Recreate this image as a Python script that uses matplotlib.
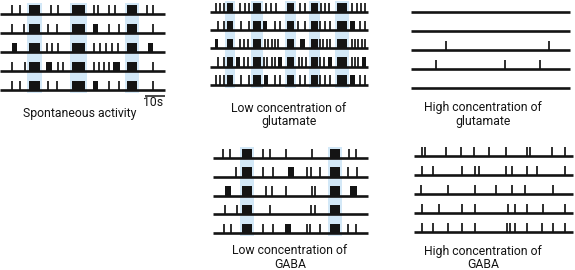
import matplotlib
matplotlib.use("Agg")
import matplotlib.pyplot as plt

# ── data: spike times / burst intervals (seconds) per row ────────────────────

spont_spikes = [
    [6, 10, 25.5, 29, 47, 49, 54.5, 57.5, 73.5, 76.5],
    [6, 12, 24, 28.5, 54.5, 59.5, 76.5],
    [23.5, 26, 29, 47, 50, 53, 56, 59],
    [6, 12.5, 29, 31.5, 47, 49.5, 52, 54.5, 76.5],
    [6, 10, 24, 28.5, 54.5, 59.5, 76.5],
]
spont_bursts = [
    [],
    [(46.5, 49)],
    [(6, 8.5), (74, 76.5)],
    [(23, 26), (56.5, 60)],
    [(46.5, 49)],
]
spont_sync = [(14.5, 20), (36, 42.5), (63.5, 68.5)]

lowglu_spikes = [
    [3, 5, 7, 15, 17.5, 19.5, 28, 30.5, 33, 45, 47.5, 55.5, 57.5, 59.5, 71, 73.5, 75.5, 77.5],
    [4, 7, 15.5, 19.5, 32.5, 35, 44, 47.5, 55, 57.5, 60, 75, 77.5],
    [15, 17, 19, 27.5, 29, 31, 32.5, 34, 55, 56.5, 58.5, 60, 71, 72.5, 74, 76, 77.5],
    [4, 7, 17, 19, 27, 28.5, 31, 32.5, 44.5, 46, 48, 55, 57, 71, 72.5, 74],
    [3, 5, 7, 15.5, 19.5, 32.5, 35, 45, 47.5, 55, 57.5, 60, 75, 77.5],
]
lowglu_bursts = [
    [],
    [(26.5, 28.5), (70, 72.5)],
    [(2.5, 4), (45, 47.5)],
    [(13, 15), (34, 36), (59, 61), (76, 78)],
    [(27, 29), (70, 72.5)],
]
lowglu_sync = [(8.5, 11.5), (21.5, 25.5), (38.5, 42), (50.5, 54), (63.5, 68.5)]

highglu_spikes = [[], [], [17.5, 69], [12.5, 47, 64.5], []]

lowgaba_spikes = [
    [5, 8.5, 25, 28.5, 36.5, 49.5, 68, 71.5],
    [11.5, 25, 30, 47, 49, 53.5, 67.5, 72],
    [26.5, 29.5, 36.5, 49.5, 51],
    [6, 12, 28.5, 49, 51],
    [5.5, 9, 25, 30, 47, 48.5, 53.5, 67.5, 71.5],
]
lowgaba_bursts = [
    [],
    [(37.5, 40.5)],
    [(6, 9), (68.5, 72)],
    [],
    [(36, 39)],
]
lowgaba_sync = [(14.5, 19.5), (58.5, 63.5)]

highgaba_spikes = [
    [4, 5.5, 16, 23.5, 30, 37.5, 46, 56.5, 58, 69, 75.5],
    [4, 9.5, 24, 30.5, 32.5, 46, 49, 56.5, 61.5, 75.5],
    [3.5, 17, 30.5, 41, 49, 55.5, 69.5],
    [4, 12.5, 24, 30.5, 47, 50.5, 56.5, 64.5, 75.5],
    [4, 9.5, 17, 24, 30.5, 46.5, 48, 50.5, 56.5, 64, 69.5, 75.5],
]

_INK = "#141414"
_SHADE = "#d3e8f7"
W, H = 575, 270
SPIKE_H = 9.5


def draw_panel(fig, x0, x1, ytop, spacing, spikes, bursts=None, sync=()):
    """One raster block; x in seconds (2 px per second), y in px below top row."""
    T = (x1 - x0) / 2
    bottom = ytop + 4 * spacing + 8
    ax = fig.add_axes([(x0 - 1) / W, 1 - bottom / H, (x1 - x0 + 2) / W,
                       (bottom - (ytop - 13)) / H])
    ax.set_xlim(-0.5, T + 0.5)
    ax.set_ylim(4 * spacing + 8, -13)
    ax.axis("off")

    # synchrony shading behind all rows
    for a, b in sync:
        ax.bar(a - 1, 4 * spacing + 14, width=(b - a) + 2, bottom=-11,
               align="edge", color=_SHADE, linewidth=0, zorder=1)

    for i, row in enumerate(spikes):
        base = i * spacing
        ax.hlines(base, 0, T, color=_INK, linewidth=1.9, zorder=3)
        ax.vlines(row, base - SPIKE_H, base, color=_INK, linewidth=1.25, zorder=3)
        blist = list(sync) + (bursts[i] if bursts else [])
        for a, b in blist:
            ax.bar(a, SPIKE_H, width=b - a, bottom=base - SPIKE_H, align="edge",
                   color=_INK, linewidth=0, zorder=3)
    return ax


fig = plt.figure(figsize=(W / 100, H / 100), dpi=100)
fig.patch.set_facecolor("white")

ax1 = draw_panel(fig, 0, 165, 14, 19, spont_spikes, spont_bursts, spont_sync)
draw_panel(fig, 210, 368, 12, 18.2, lowglu_spikes, lowglu_bursts, lowglu_sync)
draw_panel(fig, 411, 570, 12, 19, highglu_spikes)
draw_panel(fig, 213, 368, 158, 18.75, lowgaba_spikes, lowgaba_bursts, lowgaba_sync)
draw_panel(fig, 414, 573, 156, 19, highgaba_spikes)

# 10 s scale bar under the spontaneous block
ax1.hlines(4 * 19 + 6, 72.5, 82.5, color=_INK, linewidth=1.1, clip_on=False)

fs = 8.8
font = ["Roboto", "DejaVu Sans"]


def label(x, y, s):
    fig.text(x / W, 1 - y / H, s, ha="center", va="center", fontsize=fs,
             family=font, color=_INK)


label(153, 103, "10s")
label(80, 113, "Spontaneous activity")
label(289, 108, "Low concentration of")
label(289, 122, "glutamate")
label(483, 108, "High concentration of")
label(483, 122, "glutamate")
label(290, 251, "Low concentration of")
label(290, 264, "GABA")
label(483, 251, "High concentration of")
label(483, 264, "GABA")

fig.savefig("out.png", dpi=100, facecolor="white")
plt.close(fig)
